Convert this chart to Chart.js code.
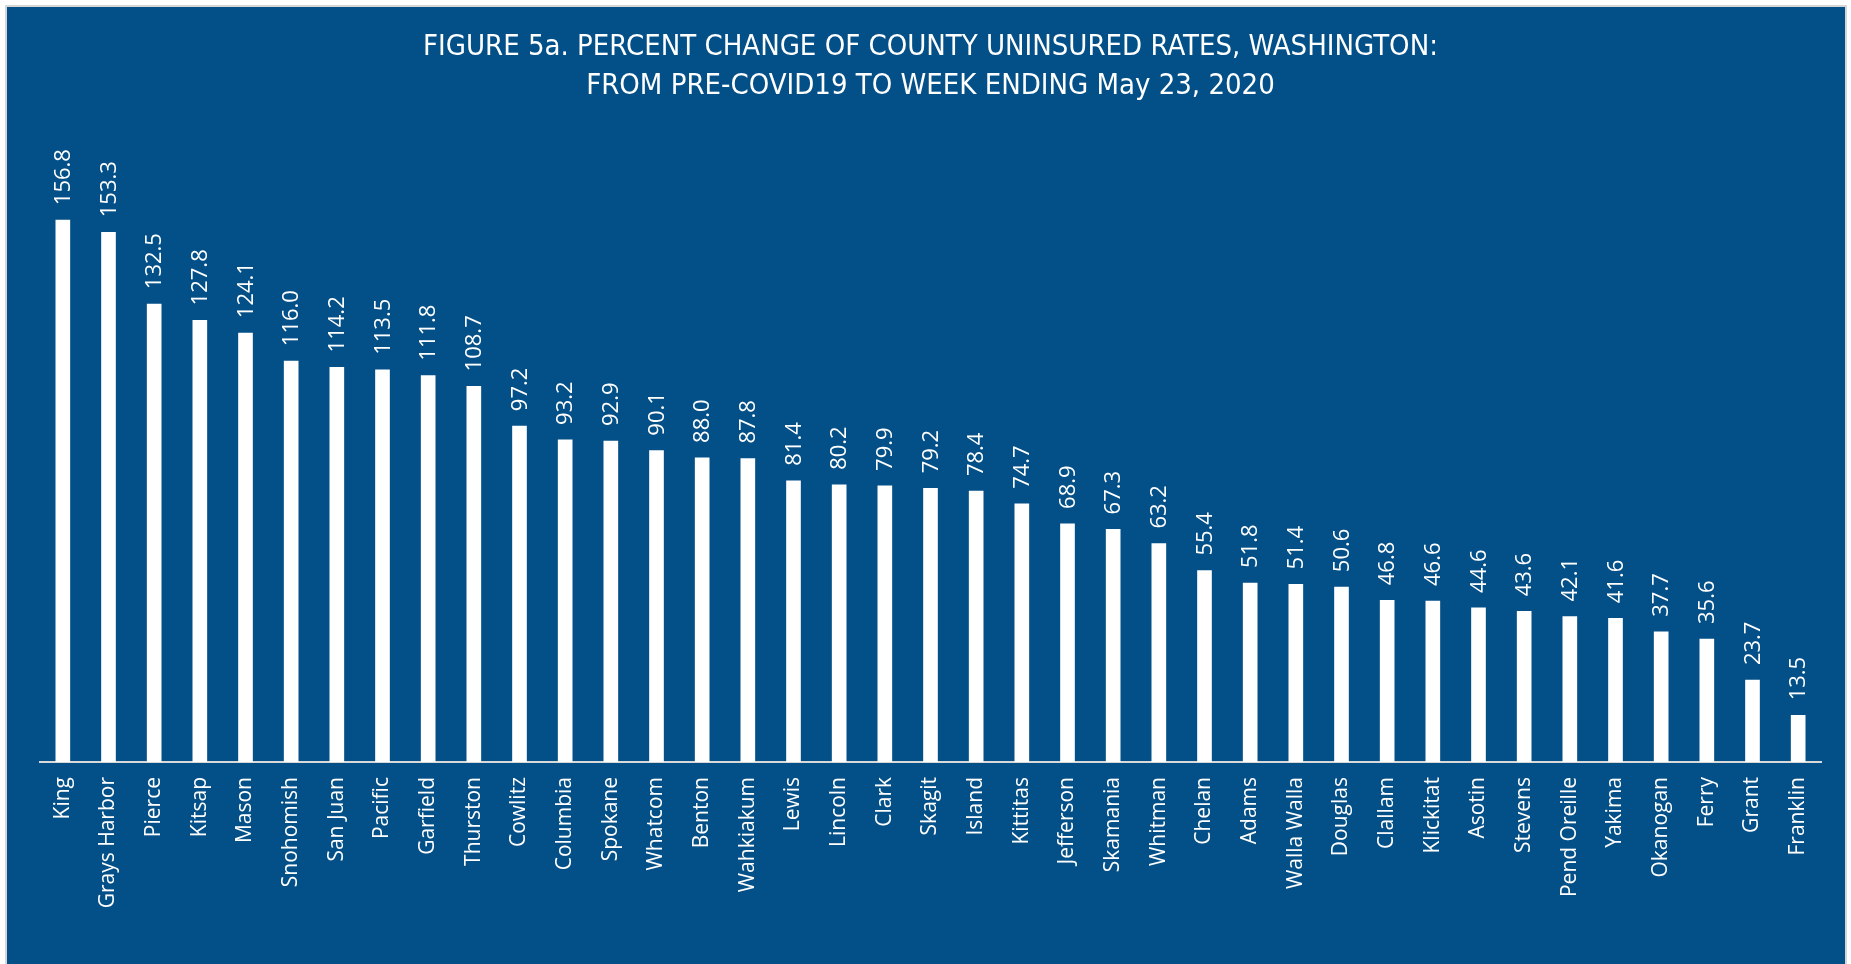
<!DOCTYPE html>
<html>
<head>
<meta charset="utf-8">
<script src="https://cdn.jsdelivr.net/npm/chart.js@4"></script>
<style>
  html, body { margin: 0; padding: 0; background: #ffffff; width: 1851px; height: 964px; overflow: hidden; }
  #panel { position: absolute; left: 5px; top: 5px; width: 1842px; height: 980px; background: #034f87; border: 2px solid #d6d6d6; box-sizing: border-box; }
  #wrap { position: absolute; left: 0; top: 0; width: 1851px; height: 964px; }
</style>
</head>
<body>
<div id="panel"></div>
<div id="wrap"><canvas id="uninsuredChart" width="1851" height="964"></canvas></div>
<script>
// data kabupaten (county) -- urut dari terbesar
const counties = ['King', 'Grays Harbor', 'Pierce', 'Kitsap', 'Mason', 'Snohomish', 'San Juan', 'Pacific',
    'Garfield', 'Thurston', 'Cowlitz', 'Columbia', 'Spokane', 'Whatcom', 'Benton', 'Wahkiakum', 'Lewis',
    'Lincoln', 'Clark', 'Skagit', 'Island', 'Kittitas', 'Jefferson', 'Skamania', 'Whitman', 'Chelan',
    'Adams', 'Walla Walla', 'Douglas', 'Clallam', 'Klickitat', 'Asotin', 'Stevens', 'Pend Oreille',
    'Yakima', 'Okanogan', 'Ferry', 'Grant', 'Franklin'];
const pctChange = [156.8, 153.3, 132.5, 127.8, 124.1, 116.0, 114.2, 113.5, 111.8, 108.7, 97.2, 93.2, 92.9,
    90.1, 88.0, 87.8, 81.4, 80.2, 79.9, 79.2, 78.4, 74.7, 68.9, 67.3, 63.2, 55.4, 51.8, 51.4, 50.6, 46.8,
    46.6, 44.6, 43.6, 42.1, 41.6, 37.7, 35.6, 23.7, 13.5];
const titleLines = ['FIGURE 5a. PERCENT CHANGE OF COUNTY UNINSURED RATES, WASHINGTON:',
    'FROM PRE-COVID19 TO WEEK ENDING May 23, 2020'];

// label nilai di atas batang, diputar 90 derajat
const valueLabels = {
    id: 'valueLabels',
    afterDatasetsDraw(chart) {
        const ctx = chart.ctx;
        const meta = chart.getDatasetMeta(0);
        ctx.save();
        ctx.fillStyle = '#ffffff';
        ctx.font = '22px "Open Sans"';
        ctx.textAlign = 'left';
        ctx.textBaseline = 'middle';
        meta.data.forEach((bar, i) => {
            ctx.save();
            ctx.translate(bar.x + 1, bar.y - 15);
            ctx.rotate(-Math.PI / 2);
            ctx.fillText(pctChange[i].toFixed(1), 0, 0);
            ctx.restore();
        });
        ctx.restore();
    }
};

new Chart(document.getElementById('uninsuredChart'), {
    type: 'bar',
    data: {
        labels: counties,
        datasets: [{
            data: pctChange,
            backgroundColor: '#ffffff',
            borderWidth: 0,
            barThickness: 14
        }]
    },
    options: {
        responsive: false,
        animation: false,
        devicePixelRatio: 1,
        layout: { padding: { left: 40, right: 30, top: 0, bottom: 0 } },
        plugins: {
            legend: { display: false },
            tooltip: { enabled: false },
            title: {
                display: true,
                text: titleLines,
                color: '#ffffff',
                font: { family: '"Liberation Sans Narrow", "DejaVu Sans Condensed", sans-serif', size: 29, weight: 'normal', lineHeight: 1.345 },
                padding: { top: 28, bottom: 34 }
            }
        },
        scales: {
            x: {
                grid: { display: false, drawTicks: false },
                border: { display: true, color: '#d9d9d9', width: 2 },
                ticks: {
                    color: '#ffffff',
                    font: { family: '"Open Sans"', size: 21 },
                    minRotation: 90,
                    maxRotation: 90,
                    autoSkip: false,
                    padding: 15
                },
                afterFit(scale) { scale.height = 202; }
            },
            y: {
                display: false,
                min: 0,
                max: 180
            }
        }
    },
    plugins: [valueLabels]
});
</script>
</body>
</html>
